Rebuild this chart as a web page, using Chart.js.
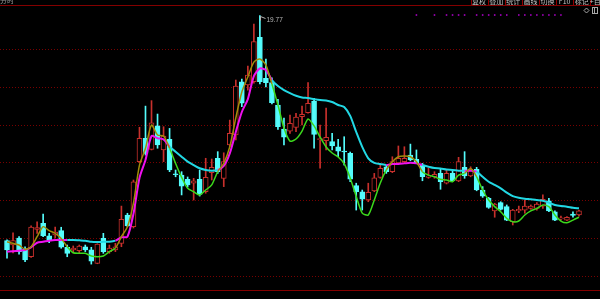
<!DOCTYPE html>
<html>
<head>
<meta charset="utf-8">
<script src="https://cdn.jsdelivr.net/npm/chart.js@4.4.1/dist/chart.umd.min.js"></script>
<style>
  html, body { margin: 0; padding: 0; background: #000; overflow: hidden; }
  #wrap { width: 600px; height: 299px; }
</style>
</head>
<body>
<div id="wrap"><canvas id="kline" width="600" height="299"></canvas></div>
<script>
/* daily K-line, 96 bars */

const open = [7.86,7.63,8.00,7.42,7.01,8.46,8.78,8.11,8.16,8.39,
  7.51,7.37,7.33,7.54,7.37,6.66,7.98,7.28,7.37,7.72,
  9.22,8.60,12.04,13.28,12.69,13.93,12.66,13.22,11.39,11.33,
  11.11,10.90,11.11,10.45,11.46,12.22,11.16,12.92,13.45,16.27,
  16.10,16.27,18.62,16.45,16.22,15.04,13.77,13.66,13.85,14.42,
  14.63,15.25,13.21,13.15,13.10,12.83,12.59,12.48,10.77,10.45,
  10.01,10.49,11.21,11.77,11.51,11.98,12.04,12.39,12.16,11.86,
  11.21,11.24,11.42,10.90,11.42,11.02,11.74,11.28,11.64,10.54,
  10.10,9.44,9.87,9.66,8.86,9.44,9.48,9.57,9.57,9.69,
  9.97,9.39,9.01,8.95,9.27,9.22];

const close = [7.37,7.86,7.28,6.84,8.58,8.55,8.11,7.90,8.32,7.51,
  7.19,7.47,7.58,7.37,6.78,7.68,7.28,7.47,7.54,8.99,
  8.64,10.98,13.28,12.48,14.10,12.92,13.40,11.60,11.35,10.75,
  10.81,11.03,10.31,11.21,11.74,11.51,12.04,13.54,16.04,15.13,
  16.62,18.39,16.27,16.22,15.16,13.89,13.33,14.07,14.40,14.54,
  15.13,13.48,13.24,13.33,12.88,12.60,12.55,11.11,10.45,10.05,
  10.42,11.19,11.69,11.51,12.04,12.22,12.22,12.13,11.98,11.24,
  11.28,11.37,10.98,11.42,11.03,12.04,11.28,11.64,10.54,10.22,
  9.62,9.80,9.52,8.95,9.48,9.52,9.69,9.69,9.80,10.05,
  9.44,8.95,9.06,9.10,9.20,9.44];

const high = [7.90,8.28,8.07,7.54,8.64,8.86,9.27,8.25,8.58,8.57,
  7.63,7.58,7.63,7.63,7.51,7.70,8.25,7.63,7.72,9.69,
  9.31,11.07,13.86,14.98,15.27,14.56,13.89,13.80,11.60,11.51,
  11.23,11.16,11.60,12.22,12.18,12.57,12.51,14.24,16.36,16.41,
  17.10,19.32,19.77,17.47,16.47,15.34,14.35,14.51,14.60,14.98,
  16.22,15.39,13.98,14.88,13.54,13.22,13.36,12.55,10.90,10.54,
  10.90,11.42,11.86,11.86,12.30,12.87,12.83,12.97,12.66,11.95,
  11.69,11.51,11.64,11.60,11.56,12.27,12.57,11.77,11.74,10.72,
  10.15,9.84,9.92,9.75,9.52,9.69,10.01,9.75,9.87,10.28,
  10.10,9.44,9.16,9.13,9.39,9.48];

const low = [6.94,7.21,7.15,6.75,6.97,8.25,8.07,7.75,8.00,7.46,
  7.01,7.21,7.19,7.28,6.62,6.64,7.19,7.19,7.28,7.54,
  8.60,8.53,12.00,12.39,12.66,12.75,12.04,11.51,11.24,10.28,
  10.70,10.01,10.22,10.37,11.07,11.42,10.72,12.83,13.19,14.95,
  15.83,16.19,16.15,15.99,15.09,13.75,12.92,13.54,13.63,13.98,
  14.60,12.75,11.70,12.66,12.66,12.30,11.86,10.98,9.48,9.48,
  9.92,10.45,11.16,11.42,11.46,11.95,11.98,12.09,11.95,11.03,
  11.16,11.16,10.58,10.86,10.98,10.98,11.16,11.24,10.50,10.15,
  9.57,9.10,9.48,8.92,8.69,9.34,9.31,9.52,9.48,9.57,
  9.39,8.92,8.95,8.92,9.10,9.16];

const maShort = [7.80,7.72,7.63,7.40,7.54,8.07,8.60,8.39,8.25,7.98,
  7.54,7.22,7.19,7.19,7.05,7.01,7.05,7.28,7.46,8.07,
  8.60,9.85,11.86,12.75,13.98,13.45,13.40,12.75,11.95,11.21,
  10.63,10.45,10.28,10.54,10.81,11.51,11.95,12.83,14.35,15.73,
  16.52,17.31,17.47,17.15,16.15,15.04,13.82,13.13,13.24,13.66,
  14.30,13.93,13.34,12.82,12.50,12.29,11.94,11.18,10.20,9.32,
  9.22,10.01,10.91,11.60,12.04,12.30,12.34,12.30,12.04,11.51,
  11.33,11.24,11.11,11.07,10.98,11.33,11.42,11.68,11.24,10.54,
  10.01,9.66,9.39,9.04,8.86,8.90,9.22,9.44,9.57,9.75,
  9.66,9.22,8.90,8.81,8.95,9.10];

const maLong = [7.28,7.30,7.33,7.37,7.51,7.75,7.80,7.86,7.90,7.90,
  7.90,7.90,7.88,7.86,7.80,7.79,7.80,7.80,7.86,8.04,
  8.07,9.27,11.18,12.13,13.40,13.28,13.22,12.83,12.57,12.30,
  12.04,11.86,11.69,11.60,11.56,11.60,11.81,12.48,13.61,14.67,
  15.35,16.57,16.97,16.89,16.36,16.04,15.83,15.67,15.53,15.44,
  15.41,15.35,15.30,15.28,15.20,15.04,14.93,14.46,13.61,12.82,
  12.22,11.98,11.92,11.86,11.92,11.92,11.95,11.98,11.95,11.86,
  11.77,11.70,11.68,11.62,11.60,11.56,11.56,11.56,11.51,11.24,
  10.98,10.81,10.63,10.40,10.22,10.13,10.08,10.05,10.01,9.97,
  9.87,9.75,9.69,9.66,9.60,9.57];

// bars carrying the purple signal dot along the top
const signalBars = [68,71,73,74,75,76,78,79,80,81,82,83,85,86,87,88,89,90,91,92];
const signalLevel = 19.80;

const gridLevels = [6, 8, 10, 12, 14, 16, 18];
const toolbarButtons = ['复权','叠加','统计','画线','切换','F10','标记','+自选'];

const labels = open.map((_, i) => String(i + 1));

const RED = '#c8302c', CYAN = '#54fcfc';
const OLIVE = '#a08c0a', GREEN = '#3cd81c', MAGENTA = '#f010f0', CYAN_LINE = '#22d8e4';

const isUp = i => close[i] >= open[i];
const shortAbove = c => maShort[c.p0DataIndex] >= maLong[c.p0DataIndex] ||
                        maShort[c.p1DataIndex] >= maLong[c.p1DataIndex];

const frame = {
  id: 'frame',
  beforeDraw(chart) {
    const { ctx, width, height } = chart;
    ctx.save();
    ctx.fillStyle = '#000';
    ctx.fillRect(0, 0, width, height);
    ctx.restore();
  },
  beforeDatasetsDraw(chart) {
    const { ctx, width, chartArea } = chart;
    const y = chart.scales.y;
    ctx.save();
    ctx.lineWidth = 1;
    ctx.strokeStyle = '#780000';
    ctx.setLineDash([1, 2]);
    gridLevels.forEach(v => {
      const py = Math.round(y.getPixelForValue(v)) + 0.5;
      ctx.beginPath(); ctx.moveTo(0, py); ctx.lineTo(width, py); ctx.stroke();
    });
    ctx.setLineDash([]);
    ctx.strokeStyle = '#840000';
    [chartArea.top, chartArea.bottom].forEach(v => {
      const py = Math.round(v) + 0.5;
      ctx.beginPath(); ctx.moveTo(0, py); ctx.lineTo(width, py); ctx.stroke();
    });
    ctx.restore();
  },
  afterDraw(chart) {
    const { ctx } = chart;
    const x = chart.scales.x, y = chart.scales.y;

    // highest price marker
    const top = Math.max(...high);
    const iTop = high.indexOf(top);
    const px = Math.round(x.getPixelForValue(iTop)) + 0.5;
    const py = Math.round(y.getPixelForValue(top)) + 0.5;
    ctx.save();
    ctx.strokeStyle = '#b4b4b4';
    ctx.lineWidth = 1;
    ctx.beginPath();
    ctx.moveTo(px, py); ctx.lineTo(px, py + 4);
    ctx.moveTo(px, py); ctx.lineTo(px + 5, py + 2);
    ctx.stroke();
    ctx.fillStyle = '#b8b8b8';
    ctx.font = '6.5px "Liberation Sans", Arial, sans-serif';
    ctx.textBaseline = 'middle';
    ctx.fillText(top.toFixed(2), px + 6, py + 3.5);
    ctx.restore();

    // toolbar strip (clipped at the top edge)
    ctx.save();
    ctx.beginPath(); ctx.rect(0, 0, chart.width, 5); ctx.clip();
    ctx.font = '7px "Noto Sans CJK SC", sans-serif';
    ctx.textBaseline = 'middle';
    ctx.textAlign = 'center';
    toolbarButtons.forEach((t, k) => {
      const bx = 470.5 + k * 17.1;
      ctx.strokeStyle = '#900000';
      ctx.beginPath(); ctx.moveTo(Math.round(bx) + 0.5, 0); ctx.lineTo(Math.round(bx) + 0.5, 5); ctx.stroke();
      ctx.fillStyle = '#c4c4c4';
      ctx.fillText(t, bx + 8.6, 1.2);
    });
    ctx.textAlign = 'left';
    ctx.fillStyle = '#9a9a9a';
    ctx.fillText('分时', 0, 0.5);
    ctx.restore();

    // two small window icons
    ctx.save();
    ctx.strokeStyle = '#a8a8a8';
    ctx.lineWidth = 1;
    ctx.beginPath();
    ctx.moveTo(586.5, 8); ctx.lineTo(589, 10.5); ctx.lineTo(586.5, 13); ctx.lineTo(584, 10.5); ctx.closePath();
    ctx.stroke();
    ctx.strokeRect(592.5, 7.5, 5, 6);
    ctx.beginPath(); ctx.moveTo(594.5, 7.5); ctx.lineTo(594.5, 13.5); ctx.stroke();
    ctx.restore();
  }
};

new Chart(document.getElementById('kline'), {
  type: 'bar',
  data: {
    labels,
    datasets: [
      {
        type: 'line', label: 'short MA', data: maShort,
        borderColor: OLIVE, borderWidth: 1.5, pointRadius: 0, tension: 0.25,
        segment: { borderColor: c => shortAbove(c) ? OLIVE : GREEN },
        order: 0
      },
      {
        type: 'line', label: 'long MA', data: maLong,
        borderColor: MAGENTA, borderWidth: 2, pointRadius: 0, tension: 0.25,
        segment: { borderColor: c => shortAbove(c) ? MAGENTA : CYAN_LINE },
        order: 1
      },
      {
        type: 'line', label: 'signal',
        data: labels.map((_, i) => signalBars.includes(i) ? signalLevel : null),
        showLine: false, pointStyle: 'rect', pointRadius: 1.1,
        pointBackgroundColor: '#b000cc', pointBorderWidth: 0,
        order: 0
      },
      {
        label: 'body', data: open.map((o, i) => [o, close[i]]),
        backgroundColor: open.map((o, i) => isUp(i) ? '#000' : CYAN),
        borderColor: open.map((o, i) => isUp(i) ? RED : CYAN),
        borderWidth: 1, borderSkipped: false, barThickness: 5, minBarLength: 1,
        grouped: false, order: 2
      },
      {
        label: 'wick', data: low.map((l, i) => [l, high[i]]),
        backgroundColor: open.map((o, i) => isUp(i) ? RED : CYAN),
        borderWidth: 0, barThickness: 1,
        grouped: false, order: 3
      }
    ]
  },
  options: {
    responsive: false,
    animation: false,
    devicePixelRatio: 1,
    events: [],
    layout: { padding: { left: 2.7, right: 18, top: 5, bottom: 9 } },
    plugins: { legend: { display: false }, tooltip: { enabled: false } },
    scales: {
      x: { display: false, offset: true },
      y: { display: false, min: 5.25, max: 20.33 }
    }
  },
  plugins: [frame]
});
</script>
</body>
</html>
